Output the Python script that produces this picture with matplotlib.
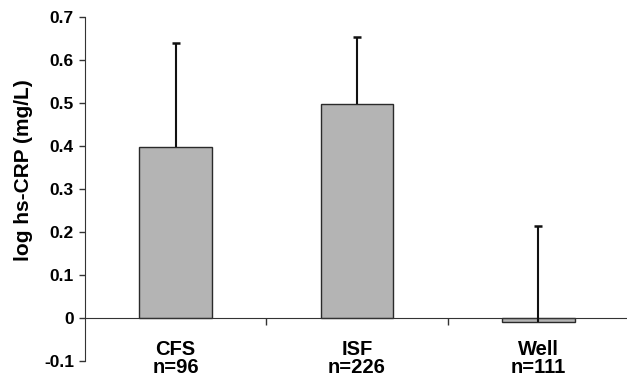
import numpy as np
import matplotlib
matplotlib.use('Agg')
import matplotlib.pyplot as plt
import matplotlib.transforms as mtransforms

plt.rcParams['font.family'] = ['Liberation Sans', 'DejaVu Sans']
plt.rcParams['font.weight'] = 'bold'

# Datos
groups = ['CFS', 'ISF', 'Well']
sizes = ['n=96', 'n=226', 'n=111']
means = [0.398, 0.497, -0.011]
errors_up = [0.242, 0.156, 0.225]
yticks = [-0.1, 0, 0.1, 0.2, 0.3, 0.4, 0.5, 0.6, 0.7]
ytick_labels = ['-0.1', '0', '0.1', '0.2', '0.3', '0.4', '0.5', '0.6', '0.7']

W, H = 627, 384
fig = plt.figure(figsize=(W / 100, H / 100), dpi=100)
ax = fig.add_axes([85 / W, (H - 360.7) / H, (629 - 85) / W, (360.7 - 16.7) / H])

x = np.arange(len(groups)) + 0.5
means = np.array(means)
tops = means + np.array(errors_up)
ax.bar(x, means, width=0.4, color='#b4b4b4', edgecolor='#2a2a2a', linewidth=1.0, zorder=2)
# Barras de error solo hacia arriba
ax.vlines(x, means, tops, colors='#111111', linewidth=1.5, zorder=3)
ax.plot(x, tops, linestyle='none', marker='_', markersize=6, markeredgewidth=1.8,
        color='#111111', zorder=3)

ax.set_xlim(0, 3)
ax.set_ylim(-0.1, 0.7)
ax.set_yticks(yticks)
ax.set_yticklabels(ytick_labels, fontsize=12.5, fontweight='bold')
ax.set_xticks([1, 2])
ax.set_xticklabels([])

for s in ['top', 'right']:
    ax.spines[s].set_visible(False)
ax.spines['bottom'].set_position(('data', 0))
ax.spines['bottom'].set_color('#333333')
ax.spines['left'].set_color('#333333')
ax.tick_params(axis='y', direction='out', length=4, width=1, color='#333333', pad=4)
ax.tick_params(axis='x', direction='out', length=5, width=1, color='#333333')

trans = mtransforms.blended_transform_factory(ax.transData, ax.transData)
for xi, g, n in zip(x, groups, sizes):
    ax.text(xi, -0.052, g + '\n' + n, ha='center', va='top', fontsize=14.5,
            fontweight='bold', linespacing=0.9, transform=trans, clip_on=False)

ax.set_ylabel('log hs-CRP (mg/L)', fontsize=15, fontweight='bold')
ax.yaxis.set_label_coords(-0.0956, 0.554)

fig.savefig('out.png', dpi=100)
